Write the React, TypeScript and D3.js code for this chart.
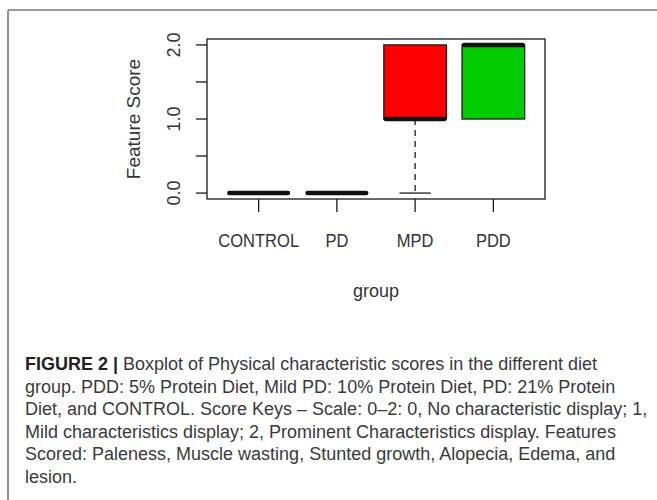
import React from "react";
import * as d3 from "d3";

// Boxplot summary per diet group (R-style boxplot)
const groups = ["CONTROL", "PD", "MPD", "PDD"];
const lowerWhisker = [0, 0, 0, 1];
const q1 = [0, 0, 1, 1];
const median = [0, 0, 1, 2];
const q3 = [0, 0, 2, 2];
const upperWhisker = [0, 0, 2, 2];
const boxFills = ["#ffffff", "#ffffff", "#ff0000", "#00cc00"];

const yTicks = [0, 0.5, 1, 1.5, 2];
const yTickLabels = ["0.0", "1.0", "2.0"];
const yLabelValues = [0, 1, 2];

const xTitle = "group";
const yTitle = "Feature Score";

const captionLines: { bold?: string; text: string }[] = [
  { bold: "FIGURE 2 | ", text: "Boxplot of Physical characteristic scores in the different diet" },
  { text: "group. PDD: 5% Protein Diet, Mild PD: 10% Protein Diet, PD: 21% Protein" },
  { text: "Diet, and CONTROL. Score Keys \u2013 Scale: 0\u20132: 0, No characteristic display; 1," },
  { text: "Mild characteristics display; 2, Prominent Characteristics display. Features" },
  { text: "Scored: Paleness, Muscle wasting, Stunted growth, Alopecia, Edema, and" },
  { text: "lesion." },
];

const W = 657;
const H = 500;
const plot = { left: 207, right: 545, top: 39, bottom: 199 };

export default function App() {
  // R extends each axis range by 4%
  const x = d3
    .scaleLinear()
    .domain([0.34, 4.66])
    .range([plot.left, plot.right]);
  const y = d3
    .scaleLinear()
    .domain([-0.08, 2.08])
    .range([plot.bottom, plot.top]);

  const halfBox = x(0.4) - x(0);
  const halfStaple = halfBox / 2;
  const ink = "#1a1a1a";
  const font = "'Liberation Sans', Arial, sans-serif";

  return (
    <svg
      width={W}
      height={H}
      style={{ position: "absolute", left: 0, top: 0, background: "#fff" }}
    >
      {/* page frame */}
      <line x1={8} y1={10} x2={W} y2={10} stroke="#777" strokeWidth={1.6} />
      <line x1={8} y1={10} x2={8} y2={H} stroke="#777" strokeWidth={1.6} />

      {/* boxes */}
      {groups.map((g, i) => {
        const cx = x(i + 1);
        return (
          <g key={g}>
            {lowerWhisker[i] < q1[i] && (
              <>
                <line
                  x1={cx}
                  x2={cx}
                  y1={y(q1[i])}
                  y2={y(lowerWhisker[i])}
                  stroke={ink}
                  strokeWidth={1.3}
                  strokeDasharray="6,5"
                />
                <line
                  x1={cx - halfStaple}
                  x2={cx + halfStaple}
                  y1={y(lowerWhisker[i])}
                  y2={y(lowerWhisker[i])}
                  stroke={ink}
                  strokeWidth={1.3}
                />
              </>
            )}
            {upperWhisker[i] > q3[i] && (
              <>
                <line
                  x1={cx}
                  x2={cx}
                  y1={y(q3[i])}
                  y2={y(upperWhisker[i])}
                  stroke={ink}
                  strokeWidth={1.3}
                  strokeDasharray="6,5"
                />
                <line
                  x1={cx - halfStaple}
                  x2={cx + halfStaple}
                  y1={y(upperWhisker[i])}
                  y2={y(upperWhisker[i])}
                  stroke={ink}
                  strokeWidth={1.3}
                />
              </>
            )}
            {q3[i] > q1[i] && (
              <rect
                x={cx - halfBox}
                y={y(q3[i])}
                width={2 * halfBox}
                height={y(q1[i]) - y(q3[i])}
                fill={boxFills[i]}
                stroke={ink}
                strokeWidth={1.3}
              />
            )}
            <line
              x1={cx - halfBox + 2}
              x2={cx + halfBox - 2}
              y1={y(median[i])}
              y2={y(median[i])}
              stroke="#111"
              strokeWidth={4.5}
              strokeLinecap="round"
            />
          </g>
        );
      })}

      {/* plot frame */}
      <rect
        x={plot.left}
        y={plot.top}
        width={plot.right - plot.left}
        height={plot.bottom - plot.top}
        fill="none"
        stroke={ink}
        strokeWidth={1.3}
      />

      {/* y axis */}
      {yTicks.map((t) => (
        <line
          key={t}
          x1={plot.left - 11}
          x2={plot.left}
          y1={y(t)}
          y2={y(t)}
          stroke={ink}
          strokeWidth={1.3}
        />
      ))}
      {yLabelValues.map((v, i) => (
        <text
          key={v}
          transform={`translate(${180},${y(v)}) rotate(-90)`}
          textAnchor="middle"
          fontFamily={font}
          fontSize={18}
          fill="#333"
        >
          {yTickLabels[i]}
        </text>
      ))}
      <text
        transform={`translate(${140},${(plot.top + plot.bottom) / 2}) rotate(-90)`}
        textAnchor="middle"
        fontFamily={font}
        fontSize={19}
        fill="#333"
      >
        {yTitle}
      </text>

      {/* x axis */}
      {groups.map((g, i) => (
        <g key={g}>
          <line
            x1={x(i + 1)}
            x2={x(i + 1)}
            y1={plot.bottom}
            y2={plot.bottom + 13}
            stroke={ink}
            strokeWidth={1.3}
          />
          <text
            transform={`translate(${x(i + 1)},${247}) scale(0.92,1)`}
            textAnchor="middle"
            fontFamily={font}
            fontSize={18}
            fill="#333"
          >
            {g}
          </text>
        </g>
      ))}
      <text
        x={(plot.left + plot.right) / 2}
        y={297}
        textAnchor="middle"
        fontFamily={font}
        fontSize={18}
        fill="#333"
      >
        {xTitle}
      </text>

      {/* caption */}
      {captionLines.map((line, i) => (
        <text
          key={i}
          x={25}
          y={370 + i * 22.5}
          fontFamily={font}
          fontSize={18}
          fill="#3a3a3a"
        >
          {line.bold && (
            <tspan fontWeight="bold" fill="#222">
              {line.bold}
            </tspan>
          )}
          {line.text}
        </text>
      ))}
    </svg>
  );
}
